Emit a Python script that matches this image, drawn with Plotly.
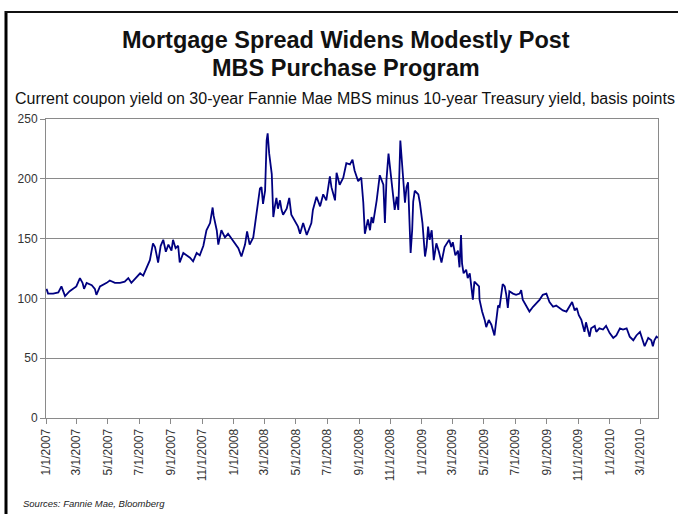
import plotly.graph_objects as go

# Current coupon 30-yr Fannie Mae MBS minus 10-yr Treasury, basis points
dates = [
    "2007-01-02", "2007-01-05", "2007-01-15", "2007-01-25", "2007-01-31", "2007-02-07",
    "2007-02-16", "2007-02-23", "2007-03-01", "2007-03-08", "2007-03-13", "2007-03-16",
    "2007-03-21", "2007-03-31", "2007-04-06", "2007-04-09", "2007-04-16", "2007-04-29",
    "2007-05-05", "2007-05-15", "2007-05-25", "2007-06-03", "2007-06-10", "2007-06-16",
    "2007-06-26", "2007-07-03", "2007-07-09", "2007-07-16", "2007-07-22", "2007-07-28",
    "2007-08-01", "2007-08-07", "2007-08-12", "2007-08-17", "2007-08-22", "2007-08-27",
    "2007-09-02", "2007-09-05", "2007-09-10", "2007-09-15", "2007-09-18", "2007-09-25",
    "2007-10-01", "2007-10-08", "2007-10-14", "2007-10-21", "2007-10-27", "2007-11-03",
    "2007-11-09", "2007-11-16", "2007-11-21", "2007-11-23", "2007-11-29", "2007-12-02",
    "2007-12-08", "2007-12-15", "2007-12-21", "2007-12-28", "2008-01-03", "2008-01-10",
    "2008-01-16", "2008-01-23", "2008-01-27", "2008-02-01", "2008-02-08", "2008-02-11",
    "2008-02-17", "2008-02-21", "2008-02-24", "2008-02-27", "2008-03-02", "2008-03-05",
    "2008-03-07", "2008-03-10", "2008-03-15", "2008-03-18", "2008-03-21", "2008-03-24",
    "2008-03-27", "2008-03-31", "2008-04-03", "2008-04-06", "2008-04-13", "2008-04-18",
    "2008-04-22", "2008-04-29", "2008-05-05", "2008-05-09", "2008-05-15", "2008-05-22",
    "2008-05-28", "2008-05-31", "2008-06-03", "2008-06-10", "2008-06-17", "2008-06-23",
    "2008-06-29", "2008-07-06", "2008-07-09", "2008-07-16", "2008-07-19", "2008-07-25",
    "2008-08-01", "2008-08-07", "2008-08-14", "2008-08-19", "2008-08-23", "2008-08-30",
    "2008-09-05", "2008-09-09", "2008-09-12", "2008-09-18", "2008-09-22", "2008-09-25",
    "2008-09-28", "2008-10-05", "2008-10-11", "2008-10-18", "2008-10-21", "2008-10-24",
    "2008-10-28", "2008-11-01", "2008-11-05", "2008-11-09", "2008-11-13", "2008-11-16",
    "2008-11-20", "2008-11-24", "2008-11-29", "2008-12-02", "2008-12-05", "2008-12-10",
    "2008-12-13", "2008-12-15", "2008-12-18", "2008-12-25", "2008-12-28", "2009-01-02",
    "2009-01-07", "2009-01-10", "2009-01-13", "2009-01-16", "2009-01-20", "2009-01-24",
    "2009-01-29", "2009-02-03", "2009-02-08", "2009-02-14", "2009-02-23", "2009-02-27",
    "2009-03-02", "2009-03-07", "2009-03-12", "2009-03-15", "2009-03-18", "2009-03-20",
    "2009-03-23", "2009-03-28", "2009-03-31", "2009-04-04", "2009-04-07", "2009-04-10",
    "2009-04-13", "2009-04-18", "2009-04-22", "2009-04-23", "2009-04-28", "2009-05-03",
    "2009-05-06", "2009-05-11", "2009-05-16", "2009-05-22", "2009-05-25", "2009-05-29",
    "2009-06-01", "2009-06-07", "2009-06-11", "2009-06-14", "2009-06-17", "2009-06-20",
    "2009-06-27", "2009-07-03", "2009-07-10", "2009-07-13", "2009-07-16", "2009-07-23",
    "2009-07-29", "2009-08-05", "2009-08-11", "2009-08-18", "2009-08-24", "2009-08-31",
    "2009-09-06", "2009-09-13", "2009-09-19", "2009-09-26", "2009-10-02", "2009-10-09",
    "2009-10-15", "2009-10-20", "2009-10-25", "2009-10-29", "2009-11-02", "2009-11-07",
    "2009-11-13", "2009-11-16", "2009-11-23", "2009-11-26", "2009-12-03", "2009-12-06",
    "2009-12-12", "2009-12-19", "2009-12-25", "2010-01-01", "2010-01-08", "2010-01-14",
    "2010-01-21", "2010-01-27", "2010-02-03", "2010-02-09", "2010-02-16", "2010-02-22",
    "2010-03-01", "2010-03-07", "2010-03-10", "2010-03-17", "2010-03-23", "2010-03-26",
    "2010-03-29", "2010-04-02", "2010-04-05",
]
spread_bp = [
    108, 104, 104, 105, 110, 102,
    106, 108, 110, 117, 113, 108,
    113, 111, 108, 103, 110, 113,
    115, 113, 113, 114, 117, 113,
    118, 121, 119, 126, 132, 146,
    143, 130, 144, 149, 139, 145,
    140, 149, 142, 144, 130, 138,
    136, 134, 131, 138, 136, 144,
    157, 163, 176, 169, 157, 145,
    157, 151, 154, 150, 147, 142,
    135, 145, 156, 145, 151, 160,
    176, 192, 193, 179, 190, 232,
    238, 221, 204, 168, 177, 184,
    175, 182, 174, 170, 175, 184,
    170, 165, 160, 154, 163, 153,
    160, 163, 174, 185, 177, 187,
    182, 202, 193, 182, 205, 195,
    201, 213, 212, 216, 207, 198,
    201, 180, 154, 166, 157, 168,
    163, 182, 203, 195, 163, 199,
    221, 207, 189, 174, 185, 174,
    232, 207, 180, 193, 197, 138,
    157, 181, 190, 187, 180, 163,
    135, 143, 160, 149, 157, 132,
    146, 139, 130, 143, 149, 143,
    147, 136, 140, 126, 153, 129,
    121, 124, 117, 121, 112, 99,
    114, 112, 110, 99, 89, 82,
    76, 82, 78, 69, 82, 94,
    93, 112, 110, 103, 92, 106,
    104, 103, 104, 107, 99, 94,
    89, 93, 96, 99, 103, 104,
    97, 93, 94, 92, 90, 89,
    93, 97, 90, 92, 86, 82,
    72, 80, 68, 75, 77, 72,
    75, 74, 77, 71, 67, 69,
    75, 74, 75, 68, 65, 69,
    72, 65, 60, 67, 65, 60,
    65, 68, 67,
]

tick_dates = [
    "2007-01-01", "2007-03-01", "2007-05-01", "2007-07-01", "2007-09-01", "2007-11-01",
    "2008-01-01", "2008-03-01", "2008-05-01", "2008-07-01", "2008-09-01", "2008-11-01",
    "2009-01-01", "2009-03-01", "2009-05-01", "2009-07-01", "2009-09-01", "2009-11-01",
    "2010-01-01", "2010-03-01",
]
tick_labels = [
    "1/1/2007", "3/1/2007", "5/1/2007", "7/1/2007", "9/1/2007", "11/1/2007",
    "1/1/2008", "3/1/2008", "5/1/2008", "7/1/2008", "9/1/2008", "11/1/2008",
    "1/1/2009", "3/1/2009", "5/1/2009", "7/1/2009", "9/1/2009", "11/1/2009",
    "1/1/2010", "3/1/2010",
]
y_ticks = [0, 50, 100, 150, 200, 250]

title_lines = ["Mortgage Spread Widens Modestly Post", "MBS Purchase Program"]
subtitle = "Current coupon yield on 30-year Fannie Mae MBS minus 10-year Treasury yield, basis points"
source_note = "Sources: Fannie Mae, Bloomberg"

W, H = 678, 514
ML, MR, MT, MB = 46, 20, 119, 96
pw, ph = W - ML - MR, H - MT - MB


def px_x(p):
    return (p - ML) / pw


def px_y(p):
    return (H - MB - p) / ph


fig = go.Figure()
fig.add_trace(go.Scatter(
    x=dates, y=spread_bp, mode="lines",
    line=dict(color="#000080", width=1.8),
    hoverinfo="x+y", showlegend=False,
))

grid_col = "#8a8a8a"
title_notes = [
    dict(text=f"<b>{line}</b>", xref="paper", yref="paper",
         x=px_x(346), y=px_y(yc), xanchor="center", yanchor="middle",
         showarrow=False, font=dict(size=23.5, color="#111"))
    for line, yc in zip(title_lines, [40, 68])
]

fig.update_layout(
    width=W, height=H,
    margin=dict(l=ML, r=MR, t=MT, b=MB),
    paper_bgcolor="white", plot_bgcolor="white",
    font=dict(family="Arial, Liberation Sans, sans-serif", color="#222"),
    xaxis=dict(
        type="date", range=["2007-01-01", "2010-04-05"],
        tickvals=tick_dates, ticktext=tick_labels, tickangle=-90,
        ticks="outside", ticklen=5, tickcolor=grid_col, tickwidth=1,
        tickfont=dict(size=12, color="#333"),
        showgrid=False, showline=True, linecolor=grid_col, linewidth=1,
        mirror=True, zeroline=False,
    ),
    yaxis=dict(
        range=[0, 250], tickvals=y_ticks,
        ticks="outside", ticklen=5, tickcolor=grid_col, tickwidth=1,
        tickfont=dict(size=12, color="#333"),
        showgrid=True, gridcolor=grid_col, gridwidth=1,
        showline=True, linecolor=grid_col, linewidth=1,
        mirror=True, zeroline=False,
    ),
    annotations=title_notes + [
        dict(text=subtitle,
             xref="paper", yref="paper", x=px_x(345), y=px_y(98),
             xanchor="center", yanchor="middle", showarrow=False,
             font=dict(size=16, color="#111")),
        dict(text=f"<i>{source_note}</i>",
             xref="paper", yref="paper", x=px_x(21), y=px_y(503),
             xanchor="left", yanchor="middle", showarrow=False,
             font=dict(size=9.5, color="#222")),
    ],
    shapes=[
        dict(type="line", xref="paper", yref="paper",
             x0=px_x(6), x1=px_x(6), y0=px_y(11), y1=px_y(H + 2),
             line=dict(color="black", width=3)),
        dict(type="line", xref="paper", yref="paper",
             x0=px_x(5), x1=px_x(W + 2), y0=px_y(12), y1=px_y(12),
             line=dict(color="#111", width=2)),
    ],
)

fig.write_html("out.html")
